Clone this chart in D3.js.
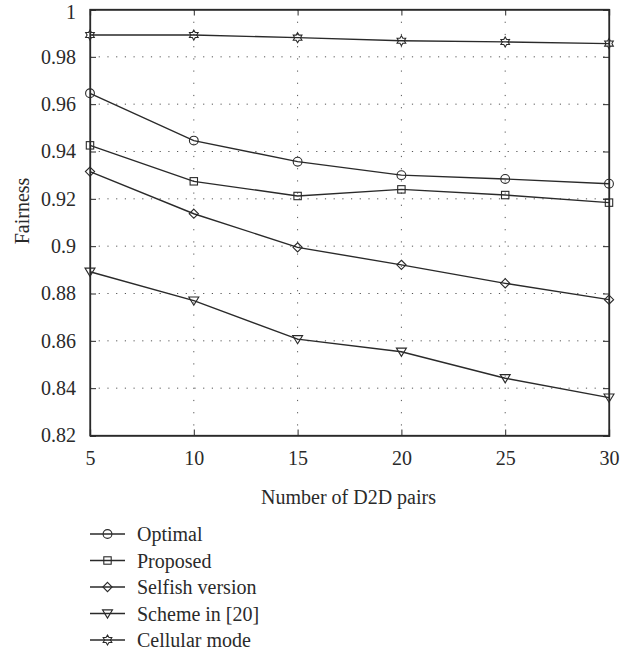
<!DOCTYPE html>
<html>
<head>
<meta charset="utf-8">
<script src="https://cdn.jsdelivr.net/npm/d3@7"></script>
<style>
  body { margin: 0; background: #fff; }
</style>
</head>
<body>
<div id="chart"></div>
<script>
// datos
const pares = [5, 10, 15, 20, 25, 30];
const optimal = [0.9646, 0.9446, 0.9357, 0.9300, 0.9284, 0.9264];
const proposed = [0.9426, 0.9274, 0.9212, 0.9240, 0.9216, 0.9184];
const selfish = [0.9315, 0.9137, 0.8995, 0.8921, 0.8843, 0.8774];
const scheme = [0.8892, 0.8770, 0.8607, 0.8554, 0.8442, 0.8360];
const cellular = [0.9892, 0.9892, 0.9881, 0.9868, 0.9863, 0.9856];
const nombres = ['Optimal', 'Proposed', 'Selfish version', 'Scheme in [20]', 'Cellular mode'];
const marcadores = ['circle', 'square', 'diamond', 'triangle', 'hexagram'];
const yTicks = [0.82, 0.84, 0.86, 0.88, 0.9, 0.92, 0.94, 0.96, 0.98, 1];
const yLabels = ['0.82', '0.84', '0.86', '0.88', '0.9', '0.92', '0.94', '0.96', '0.98', '1'];

const series = [optimal, proposed, selfish, scheme, cellular];

const W = 638, H = 654;
const margin = { top: 9.5, right: 29, bottom: 218.5, left: 90 };
const width = W - margin.left - margin.right;
const height = H - margin.top - margin.bottom;
const ink = '#2a2a2a';
const fuente = '"Liberation Serif", "DejaVu Serif", serif';

const svg = d3.select('#chart').append('svg')
  .attr('width', W)
  .attr('height', H);

const g = svg.append('g')
  .attr('transform', `translate(${margin.left},${margin.top})`);

const x = d3.scaleLinear().domain([5, 30]).range([0, width]);
const y = d3.scaleLinear().domain([0.82, 1]).range([height, 0]);

// grilla punteada
g.selectAll('.grid-y')
  .data(yTicks.slice(1, -1))
  .enter().append('line')
  .attr('x1', 0).attr('x2', width)
  .attr('y1', d => y(d)).attr('y2', d => y(d))
  .attr('stroke', '#555')
  .attr('stroke-width', 1)
  .attr('stroke-dasharray', '1.2,7.5');

g.selectAll('.grid-x')
  .data(pares.slice(1, -1))
  .enter().append('line')
  .attr('x1', d => x(d)).attr('x2', d => x(d))
  .attr('y1', 0).attr('y2', height)
  .attr('stroke', '#555')
  .attr('stroke-width', 1)
  .attr('stroke-dasharray', '1.2,11');

// ejes (ticks hacia adentro, caja completa)
const tickLen = 6;
const xAxis = d3.axisBottom(x).tickValues(pares).tickSize(-tickLen).tickPadding(tickLen + 9).tickFormat(d3.format('d'));
const yAxis = d3.axisLeft(y).tickValues(yTicks).tickSize(-tickLen).tickPadding(tickLen + 8).tickFormat((d, i) => yLabels[i]);

g.append('g').attr('transform', `translate(0,${height})`).call(xAxis);
const gy = g.append('g').call(yAxis);
g.append('g').call(d3.axisTop(x).tickValues(pares).tickSize(-tickLen).tickFormat(''));
g.append('g').attr('transform', `translate(${width},0)`).call(d3.axisRight(y).tickValues(yTicks).tickSize(-tickLen).tickFormat(''));

g.selectAll('.domain').attr('stroke', ink).attr('stroke-width', 1.3);
g.selectAll('.tick line').attr('stroke', ink).attr('stroke-width', 1);
g.selectAll('.tick text')
  .attr('font-family', fuente)
  .attr('font-size', 20)
  .attr('fill', ink);

// el "1" de arriba queda pegado al borde, se baja un poco
gy.selectAll('.tick text').filter(d => d === 1).attr('dy', '0.45em');

// caja
g.append('rect')
  .attr('width', width).attr('height', height)
  .attr('fill', 'none')
  .attr('stroke', ink)
  .attr('stroke-width', 1.3);

// marcadores
function marker(sel, tipo) {
  if (tipo === 'circle') {
    sel.append('circle').attr('r', 4.4);
  } else if (tipo === 'square') {
    sel.append('rect').attr('x', -3.7).attr('y', -3.7).attr('width', 7.4).attr('height', 7.4);
  } else if (tipo === 'diamond') {
    sel.append('path').attr('d', 'M0,-4.6L4.6,0L0,4.6L-4.6,0Z');
  } else if (tipo === 'triangle') {
    sel.append('path').attr('d', 'M-5,-3.6L5,-3.6L0,4.6Z');
  } else {
    const pts = [];
    for (let k = 0; k < 12; k++) {
      const r = k % 2 === 0 ? 5 : 2.9;
      const a = -Math.PI / 2 + k * Math.PI / 6;
      pts.push([r * Math.cos(a), r * Math.sin(a)]);
    }
    sel.append('path').attr('d', 'M' + pts.map(p => p.join(',')).join('L') + 'Z');
  }
  sel.selectAll('*')
    .attr('fill', 'none')
    .attr('stroke', ink)
    .attr('stroke-width', 1.1);
}

const line = d3.line()
  .x((d, i) => x(pares[i]))
  .y(d => y(d));

series.forEach((s, k) => {
  g.append('path')
    .datum(s)
    .attr('fill', 'none')
    .attr('stroke', ink)
    .attr('stroke-width', 1.4)
    .attr('d', line);

  s.forEach((v, i) => {
    const m = g.append('g').attr('transform', `translate(${x(pares[i])},${y(v)})`);
    marker(m, marcadores[k]);
  });
});

// titulos de ejes
svg.append('text')
  .attr('x', margin.left + width / 2 - 1)
  .attr('y', 504)
  .attr('text-anchor', 'middle')
  .attr('font-family', fuente)
  .attr('font-size', 20)
  .attr('fill', ink)
  .text('Number of D2D pairs');

svg.append('text')
  .attr('transform', 'translate(29,211) rotate(-90)')
  .attr('text-anchor', 'middle')
  .attr('font-family', fuente)
  .attr('font-size', 20)
  .attr('fill', ink)
  .text('Fairness');

// leyenda
const leg = svg.append('g').attr('transform', 'translate(90,534)');
nombres.forEach((n, k) => {
  const row = leg.append('g').attr('transform', `translate(0,${k * 26.5})`);
  row.append('line')
    .attr('x1', 0).attr('x2', 35)
    .attr('stroke', ink)
    .attr('stroke-width', 1.3);
  marker(row.append('g').attr('transform', 'translate(17.5,0)'), marcadores[k]);
  row.append('text')
    .attr('x', 47)
    .attr('dy', '0.35em')
    .attr('font-family', fuente)
    .attr('font-size', 20)
    .attr('fill', ink)
    .text(n);
});
</script>
</body>
</html>
